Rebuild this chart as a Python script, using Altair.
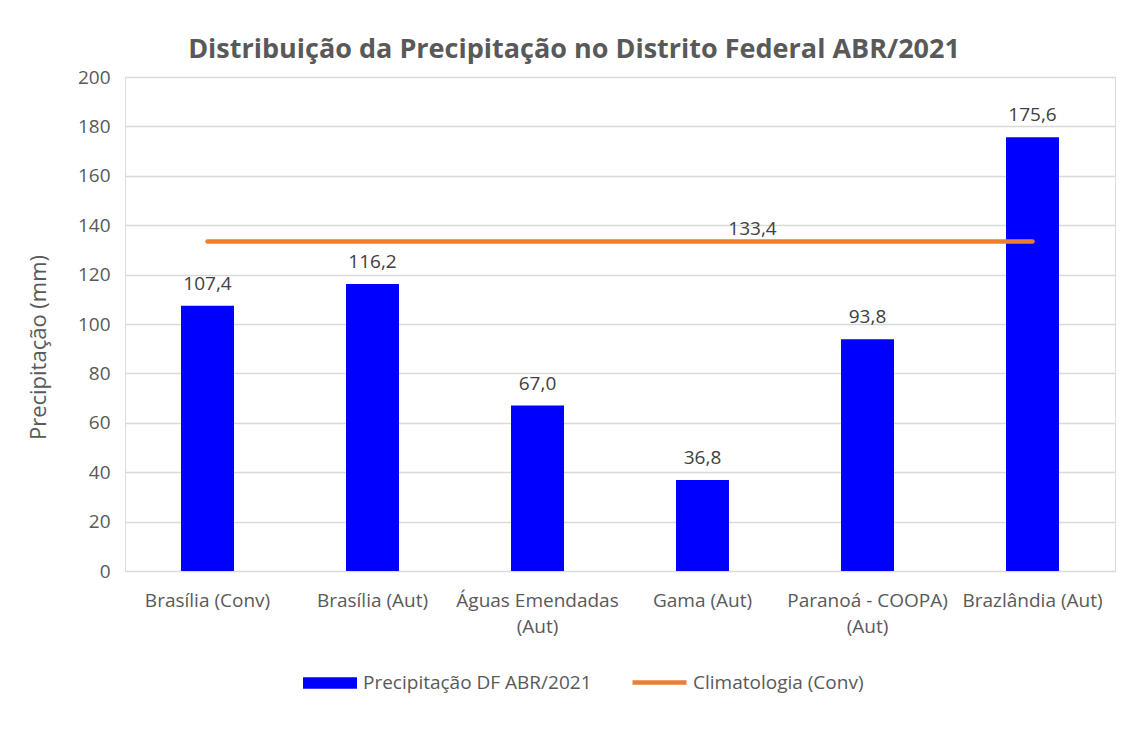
import altair as alt
import pandas as pd

estacoes = ["Brasília (Conv)", "Brasília (Aut)", "Águas Emendadas (Aut)", "Gama (Aut)",
            "Paranoá - COOPA) (Aut)", "Brazlândia (Aut)"]
precipitacao = [107.4, 116.2, 67.0, 36.8, 93.8, 175.6]
climatologia = [133.4, 133.4, 133.4, 133.4, 133.4, 133.4]
serie_barra = "Precipitação DF ABR/2021"
serie_linha = "Climatologia (Conv)"
rotulo_linha_estacao = "Gama (Aut)"
y_ticks = [0, 20, 40, 60, 80, 100, 120, 140, 160, 180, 200]

df = pd.DataFrame({
    "estacao": estacoes,
    "precip": precipitacao,
    "clima": climatologia,
    "serie_b": [serie_barra] * len(estacoes),
    "serie_l": [serie_linha] * len(estacoes),
})

FONT = "Open Sans"
GREY = "#595959"
FS = 19

x_enc = alt.X("estacao:N", sort=estacoes, title=None,
              scale=alt.Scale(paddingInner=0.68, paddingOuter=0.34),
              axis=alt.Axis(labelAngle=0, labelFontSize=FS, labelColor=GREY, labelFont=FONT,
                            ticks=False, domainColor="#D9D9D9", labelPadding=20,
                            labelLineHeight=26, labelBaseline="top", labelLimit=300,
                            labelExpr="length(datum.label) > 16 ? [substring(datum.label, 0, lastindexof(datum.label, ' ')), substring(datum.label, lastindexof(datum.label, ' ') + 1)] : datum.label"))

y_scale = alt.Scale(domain=[0, 200], nice=False)

base = alt.Chart(df)

bars = base.mark_bar(size=53).encode(
    x=x_enc,
    y=alt.Y("precip:Q", scale=y_scale, title="Precipitação (mm)",
            axis=alt.Axis(values=y_ticks, grid=True, gridColor="#D9D9D9", gridWidth=1.3,
                          domain=False, ticks=False, labelFontSize=FS, labelColor=GREY,
                          labelFont=FONT, labelPadding=15, titleFontSize=22,
                          titleColor=GREY, titleFont=FONT, titleFontWeight="normal",
                          titleX=-87, titleY=270, titleBaseline="middle", titleAngle=270)),
    color=alt.Color("serie_b:N", scale=alt.Scale(domain=[serie_barra], range=["#0000FF"]),
                    legend=alt.Legend(title=None, orient="none", legendX=178, legendY=579,
                                      symbolType="M-1,-0.21H1V0.21H-1Z", symbolSize=2916,
                                      symbolStrokeWidth=0, labelFontSize=FS, labelColor=GREY,
                                      labelFont=FONT, labelOffset=6, labelLimit=400)),
)

bar_labels = base.transform_calculate(
    rot="replace(format(datum.precip, '.1f'), '.', ',')"
).mark_text(baseline="bottom", dy=-12, fontSize=FS, font=FONT, color="#404040").encode(
    x=alt.X("estacao:N", sort=estacoes),
    y=alt.Y("precip:Q", scale=y_scale),
    text="rot:N",
)

line = base.mark_line(strokeWidth=4.5, strokeCap="round").encode(
    x=alt.X("estacao:N", sort=estacoes),
    y=alt.Y("clima:Q", scale=y_scale),
    stroke=alt.Stroke("serie_l:N", scale=alt.Scale(domain=[serie_linha], range=["#ED7D31"]),
                      legend=alt.Legend(title=None, orient="none", legendX=505, legendY=576,
                                        symbolType="stroke", symbolSize=2916,
                                        symbolStrokeWidth=4.5, labelFontSize=FS,
                                        labelColor=GREY, labelFont=FONT, labelOffset=4,
                                        labelLimit=400)),
)

line_label = base.transform_filter(
    alt.datum.estacao == rotulo_linha_estacao
).transform_calculate(
    rot="replace(format(datum.clima, '.1f'), '.', ',')"
).mark_text(baseline="bottom", dy=-3, dx=50, fontSize=FS, font=FONT, color="#404040").encode(
    x=alt.X("estacao:N", sort=estacoes),
    y=alt.Y("clima:Q", scale=y_scale),
    text="rot:N",
)

chart = alt.layer(bars, line, bar_labels, line_label).resolve_scale(
    color="independent", stroke="independent"
).properties(
    width=990, height=494,
    autosize=alt.AutoSizeParams(type="none"),
    padding={"left": 117, "top": 69, "right": 5, "bottom": 160},
    title=alt.TitleParams("Distribuição da Precipitação no Distrito Federal ABR/2021",
                          fontSize=27, fontWeight="bold", color=GREY, font=FONT,
                          anchor="middle", dx=-46, offset=4),
).configure_view(stroke=None).configure(background="white")

chart.save("out.html", embed_options={"renderer": "svg", "actions": False})
